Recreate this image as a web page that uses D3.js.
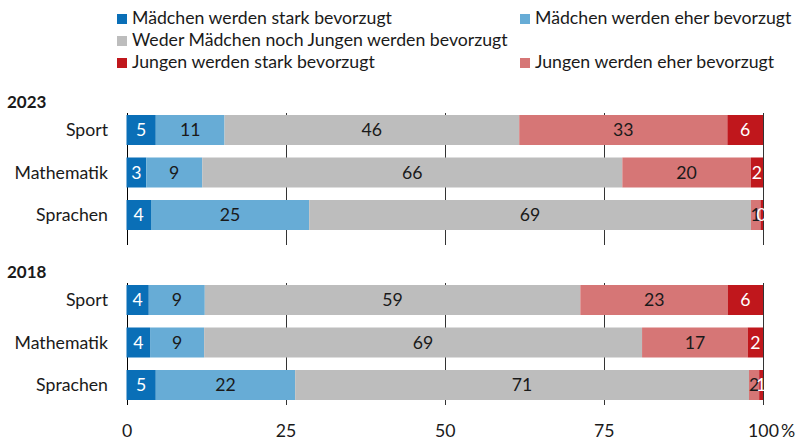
<!DOCTYPE html>
<meta charset="utf-8">
<body style="margin:0;background:#fff">
    <style>
        text { font-family: Lato, "Open Sans", sans-serif; fill: #1a1a1a; font-size: 17.7px; }
        .grid { stroke: #333; stroke-width: 1px; shape-rendering: crispEdges; }
        .year { font-weight: bold; font-size: 17px; }
    </style>
    <script src="https://d3js.org/d3.v7.min.js"></script>
    <script>
        // categories and series
        var categories = ["Sport", "Mathematik", "Sprachen"];
        var seriesNames = ["Mädchen werden stark bevorzugt", "Mädchen werden eher bevorzugt",
                           "Weder Mädchen noch Jungen werden bevorzugt",
                           "Jungen werden eher bevorzugt", "Jungen werden stark bevorzugt"];
        var colors = ["#0a6fb7", "#67acd6", "#bdbdbd", "#d67676", "#c0171c"];
        // white text on the dark segments
        var labelColors = ["#fff", "#1a1a1a", "#1a1a1a", "#1a1a1a", "#fff"];

        // shares in % (bar lengths) and the rounded numbers printed on them
        var values2023 = [[4.6, 10.8, 46.3, 32.7, 5.6],
                          [3.1, 8.8, 66.0, 20.2, 1.9],
                          [3.85, 24.85, 69.4, 1.5, 0.4]];
        var labels2023 = [[5, 11, 46, 33, 6], [3, 9, 66, 20, 2], [4, 25, 69, 1, 0]];
        var values2018 = [[3.5, 8.8, 59.0, 23.2, 5.5],
                          [3.7, 8.5, 68.8, 16.6, 2.4],
                          [4.6, 21.9, 71.3, 1.6, 0.6]];
        var labels2018 = [[4, 9, 59, 23, 6], [4, 9, 69, 17, 2], [5, 22, 71, 2, 1]];

        var tickValues = [0, 25, 50, 75, 100];

        var width = 795, height = 441;
        var svg = d3.select("body").append("svg")
                    .attr("width", width)
                    .attr("height", height);

        var x = d3.scaleLinear().domain([0, 100]).range([126.5, 763]);

        // legend: two columns, order as in the original
        var legendItems = [
            {i: 0, col: 0, row: 0}, {i: 1, col: 1, row: 0},
            {i: 2, col: 0, row: 1},
            {i: 4, col: 0, row: 2}, {i: 3, col: 1, row: 2}
        ];
        var legend = svg.append("g");
        var lg = legend.selectAll("g").data(legendItems).enter().append("g")
            .attr("transform", function(d) { return "translate(" + (d.col ? 520 : 117) + "," + (14 + d.row * 22) + ")"; });
        lg.append("rect").attr("width", 10).attr("height", 10)
            .attr("fill", function(d) { return colors[d.i]; });
        lg.append("text").attr("x", 15).attr("y", 10)
            .text(function(d) { return seriesNames[d.i]; });

        var panels = [
            {year: "2023", values: values2023, labels: labels2023, top: 115, gridTop: 113, gridBottom: 245, yearY: 102},
            {year: "2018", values: values2018, labels: labels2018, top: 285, gridTop: 283, gridBottom: 405, yearY: 272}
        ];

        panels.forEach(function(p) {
            var y = d3.scaleBand().domain(categories)
                .range([p.top, p.top + 115])
                .paddingInner(12.5 / 42.5);

            var g = svg.append("g");

            // year heading
            g.append("text").attr("class", "year")
                .attr("x", 7).attr("y", p.yearY).attr("dy", "0.35em")
                .text(p.year);

            // grid lines (behind the bars)
            g.selectAll("line.grid").data(tickValues).enter().append("line")
                .attr("class", "grid")
                .attr("x1", function(d) { return Math.round(x(d)) + 0.5; })
                .attr("x2", function(d) { return Math.round(x(d)) + 0.5; })
                .attr("y1", p.gridTop).attr("y2", p.gridBottom)
                .style("stroke", function(d) { return d === 0 ? "#000" : "#333"; });

            // category labels
            g.selectAll("text.cat").data(categories).enter().append("text")
                .attr("class", "cat")
                .attr("x", 108)
                .attr("y", function(d) { return y(d) + y.bandwidth() / 2; })
                .attr("dy", "0.35em")
                .attr("text-anchor", "end")
                .text(function(d) { return d; });

            // stacked segments per category
            categories.forEach(function(cat, ci) {
                var vals = p.values[ci];
                var ends = d3.cumsum(vals);
                var segs = vals.map(function(v, k) {
                    return {k: k, x0: ends[k] - v, x1: ends[k], label: p.labels[ci][k]};
                });
                var row = g.append("g");
                row.selectAll("rect").data(segs).enter().append("rect")
                    .attr("x", function(d) { return x(d.x0); })
                    .attr("width", function(d) { return x(d.x1) - x(d.x0); })
                    .attr("y", y(cat))
                    .attr("height", y.bandwidth())
                    .attr("fill", function(d) { return colors[d.k]; });
                row.selectAll("text").data(segs).enter().append("text")
                    .attr("x", function(d) { return x((d.x0 + d.x1) / 2); })
                    .attr("y", y(cat) + y.bandwidth() / 2)
                    .attr("dy", "0.35em")
                    .attr("text-anchor", "middle")
                    .style("fill", function(d) { return labelColors[d.k]; })
                    .text(function(d) { return d.label; });
            });
        });

        // x axis labels at the bottom
        var axis = svg.append("g")
            .attr("transform", "translate(0,421)")
            .call(d3.axisBottom(x).tickValues(tickValues).tickSize(0)
                  .tickFormat(function(d) { return d === 100 ? "100\u2009%" : d; }));
        axis.select(".domain").remove();
        axis.selectAll("text")
            .style("font-size", "17.7px")
            .style("font-family", "Lato, sans-serif")
            .attr("fill", "#1a1a1a");
        // keep "100" centred on its grid line, the % sign hangs to the right
        var last = axis.selectAll(".tick text").filter(function(d) { return d === 100; });
        var tmp = svg.append("text").text("100");
        var w100 = tmp.node().getComputedTextLength();
        tmp.remove();
        last.attr("text-anchor", "start").attr("x", -w100 / 2);
    </script>
